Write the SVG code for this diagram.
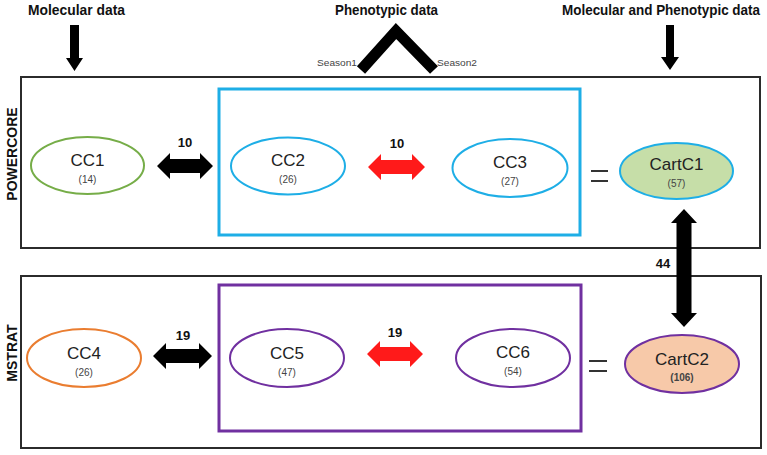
<svg xmlns="http://www.w3.org/2000/svg" width="767" height="455" viewBox="0 0 767 455">
<style>
  .hdr{font-family:"Liberation Sans",Arial,sans-serif;font-weight:bold;font-size:14px;fill:#111;}
  .side{font-family:"Liberation Sans",Arial,sans-serif;font-weight:bold;font-size:14px;fill:#111;}
  .name{font-family:"Liberation Sans",Arial,sans-serif;font-size:17px;fill:#222;text-anchor:middle;}
  .cnt{font-family:"Liberation Sans",Arial,sans-serif;font-size:10px;fill:#444;text-anchor:middle;}
  .num{font-family:"Liberation Sans",Arial,sans-serif;font-weight:bold;font-size:13px;fill:#111;text-anchor:middle;}
  .season{font-family:"Liberation Sans",Arial,sans-serif;font-size:9px;fill:#444;}
  .outer{fill:none;stroke:#2b2b2b;stroke-width:2;}
  .eq{stroke:#333;stroke-width:2;}
  .blk{fill:#000;}
  .red{fill:#ff1a1a;}
</style>

<g id="headers">
  <text class="hdr" x="28" y="15" textLength="97" lengthAdjust="spacingAndGlyphs">Molecular data</text>
  <text class="hdr" x="335" y="15" textLength="103" lengthAdjust="spacingAndGlyphs">Phenotypic data</text>
  <text class="hdr" x="562" y="15" textLength="198" lengthAdjust="spacingAndGlyphs">Molecular and Phenotypic data</text>
  <text class="season" x="317" y="66" textLength="40" lengthAdjust="spacingAndGlyphs">Season1</text>
  <text class="season" x="437" y="66" textLength="40" lengthAdjust="spacingAndGlyphs">Season2</text>
</g>

<g id="powercore">
  <rect class="outer" x="21" y="77" width="739" height="171"/>
  <text class="side" transform="translate(17,154) rotate(-90)" text-anchor="middle">POWERCORE</text>
</g>
<g id="mstrat">
  <rect class="outer" x="21" y="276" width="740" height="172"/>
  <text class="side" transform="translate(17,353) rotate(-90)" text-anchor="middle">MSTRAT</text>
</g>
<g id="blue-box">
  <rect x="219" y="89" width="361" height="146" fill="none" stroke="#1eaee6" stroke-width="3"/>
</g>
<g id="purple-box">
  <rect x="219" y="285" width="362" height="146" fill="none" stroke="#7030a0" stroke-width="3"/>
</g>

<g id="connectors">
  <!-- top down arrows -->
  <path class="blk" d="M70 25 H79 V58 H83 L74.5 71 L66 58 H70 Z"/>
  <path class="blk" d="M666 25 H674 V57 H679 L670 70 L661 57 H666 Z"/>
  <!-- chevron -->
  <polyline points="361,70 396,31 434,70" fill="none" stroke="#000" stroke-width="11" stroke-linejoin="miter"/>
  <!-- top row arrows -->
  <path class="blk" d="M157 166 L170 153 L170 159 L200 159 L200 153 L213 166 L200 179 L200 173 L170 173 L170 179 Z"/>
  <path class="red" d="M368 167 L381 154 L381 160 L412 160 L412 154 L425 167 L412 180 L412 174 L381 174 L381 180 Z"/>
  <!-- bottom row arrows -->
  <path class="blk" d="M153 356 L166 343 L166 349 L199 349 L199 343 L212 356 L199 369 L199 363 L166 363 L166 369 Z"/>
  <path class="red" d="M367 354 L380 341 L380 347 L410 347 L410 341 L423 354 L410 367 L410 361 L380 361 L380 367 Z"/>
  <!-- vertical arrow -->
  <path class="blk" d="M684 209 L697 223 L691.5 223 L691.5 313 L697 313 L684 327 L671 313 L676.5 313 L676.5 223 L671 223 Z"/>
  <!-- labels -->
  <text class="num" x="185" y="147">10</text>
  <text class="num" x="397" y="148">10</text>
  <text class="num" x="183" y="340">19</text>
  <text class="num" x="395" y="337">19</text>
  <text class="num" x="663" y="268">44</text>
  <!-- equals -->
  <line class="eq" x1="591" y1="171" x2="608" y2="171"/>
  <line class="eq" x1="591" y1="181" x2="608" y2="181"/>
  <line class="eq" x1="589" y1="361" x2="607" y2="361"/>
  <line class="eq" x1="589" y1="371" x2="607" y2="371"/>
</g>

<g id="CC1">
  <ellipse cx="87.5" cy="165.5" rx="56.5" ry="28.5" fill="#fff" stroke="#76ad48" stroke-width="2"/>
  <text class="name" x="87.5" y="166">CC1</text>
  <text class="cnt" x="87.5" y="183">(14)</text>
</g>
<g id="CC2">
  <ellipse cx="288" cy="166" rx="57" ry="28.5" fill="#fff" stroke="#1eaee6" stroke-width="2"/>
  <text class="name" x="288" y="166">CC2</text>
  <text class="cnt" x="288" y="183">(26)</text>
</g>
<g id="CC3">
  <ellipse cx="510" cy="168" rx="57.5" ry="29" fill="#fff" stroke="#1eaee6" stroke-width="2"/>
  <text class="name" x="510" y="168">CC3</text>
  <text class="cnt" x="510" y="185">(27)</text>
</g>
<g id="CartC1">
  <ellipse cx="676.5" cy="171" rx="56.5" ry="28" fill="#c6dea8" stroke="#1eaee6" stroke-width="2"/>
  <text class="name" x="676.5" y="170">CartC1</text>
  <text class="cnt" x="676.5" y="187">(57)</text>
</g>
<g id="CC4">
  <ellipse cx="84" cy="358" rx="57" ry="29" fill="#fff" stroke="#ea7d30" stroke-width="2"/>
  <text class="name" x="84" y="359">CC4</text>
  <text class="cnt" x="84" y="376">(26)</text>
</g>
<g id="CC5">
  <ellipse cx="287" cy="358" rx="57" ry="29" fill="#fff" stroke="#7030a0" stroke-width="2"/>
  <text class="name" x="287" y="359">CC5</text>
  <text class="cnt" x="287" y="376">(47)</text>
</g>
<g id="CC6">
  <ellipse cx="513" cy="358" rx="57" ry="29" fill="#fff" stroke="#7030a0" stroke-width="2"/>
  <text class="name" x="513" y="358">CC6</text>
  <text class="cnt" x="513" y="375">(54)</text>
</g>
<g id="CartC2">
  <ellipse cx="682" cy="364" rx="57" ry="29" fill="#f7c9a9" stroke="#7030a0" stroke-width="2"/>
  <text class="name" x="682" y="365">CartC2</text>
  <text class="cnt" x="682" y="381" font-weight="bold">(106)</text>
</g>
</svg>
